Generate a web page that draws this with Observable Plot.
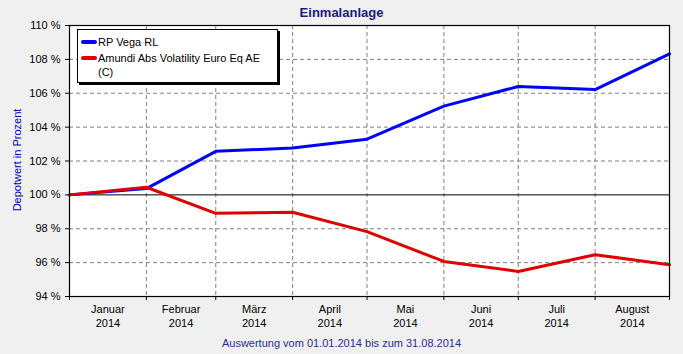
<!DOCTYPE html>
<html><head><meta charset="utf-8">
<script src="https://cdn.jsdelivr.net/npm/d3@7"></script>
<script src="https://cdn.jsdelivr.net/npm/@observablehq/plot@0.6"></script>
<style>
body{margin:0;background:#f0f0f0;font-family:"Liberation Sans",Arial,sans-serif;}
#wrap{position:relative;width:683px;height:354px;overflow:hidden;}
#wrap svg{position:absolute;left:0;top:0;}
.ov{position:absolute;white-space:nowrap;font-size:11px;line-height:1;}
#title{left:0;width:683px;top:6px;text-align:center;font-weight:bold;font-size:13px;color:#1a1a80;}
#caption{left:0;width:683px;top:338px;text-align:center;color:#2a2a9a;}
#ylab{left:17px;top:160px;transform:translate(-50%,-50%) rotate(-90deg);color:#0000b0;}
#legend{position:absolute;left:77px;top:29px;width:199px;height:52px;background:#fff;border:1px solid #000;box-shadow:2px 2px 0 #000;font-size:11px;}
.sw{position:absolute;left:3px;width:16px;height:4px;border-radius:2px;}
.lt{position:absolute;left:20px;white-space:nowrap;line-height:14px;}
</style>
</head><body>
<div id="wrap"></div>
<script>
const dates = ["2014-01-01","2014-02-01","2014-03-01","2014-04-01","2014-05-01","2014-06-01","2014-07-01","2014-08-01","2014-08-31"];
const rpVega = [100, 100.37, 102.57, 102.77, 103.29, 105.24, 106.40, 106.22, 108.32];
const amundi = [100, 100.45, 98.91, 98.97, 97.83, 96.07, 95.48, 96.47, 95.88];
const seriesNames = ["RP Vega RL", "Amundi Abs Volatility Euro Eq AE (C)"];
const seriesColors = ["#0000ff", "#e00000"];
const monthNames = ["Januar","Februar","März","April","Mai","Juni","Juli","August"];
const yearLabel = "2014";
const yTicks = [94,96,98,100,102,104,106,108,110];
const titleText = "Einmalanlage";
const yAxisTitle = "Depotwert in Prozent";
const captionText = "Auswertung vom 01.01.2014 bis zum 31.08.2014";

const parse = d3.utcParse("%Y-%m-%d");
const dt = dates.map(parse);
const blue = dt.map((d,i)=>({date:d, value:rpVega[i]}));
const red = dt.map((d,i)=>({date:d, value:amundi[i]}));
const start = dt[0], end = dt[dt.length-1];
const gridDates = dt.slice(1, -1);
const midDates = dt.slice(0,-1).map((d,i)=>new Date((+d + +dt[i+1])/2));
const gridYVals = yTicks.filter(v => v !== 100 && v !== yTicks[0] && v !== yTicks[yTicks.length-1]);

const dash = {stroke:"#808080", strokeOpacity:1, strokeDasharray:"4,3", strokeWidth:1};

const chart = Plot.plot({
  width:683, height:354,
  marginLeft:69, marginRight:14, marginTop:25, marginBottom:58,
  style:{background:"transparent", fontFamily:"'Liberation Sans', Arial, sans-serif", fontSize:"11px", color:"#000"},
  x:{type:"utc", domain:[start,end]},
  y:{domain:[yTicks[0], yTicks[yTicks.length-1]]},
  marks:[
    Plot.frame({fill:"white", stroke:null}),
    Plot.gridX(gridDates, dash),
    Plot.gridY(gridYVals, dash),
    Plot.ruleY([100], {stroke:"#000", strokeWidth:1}),
    Plot.line(blue, {x:"date", y:"value", stroke:seriesColors[0], strokeWidth:3}),
    Plot.line(red, {x:"date", y:"value", stroke:seriesColors[1], strokeWidth:3}),
    Plot.frame({stroke:"#000", strokeWidth:1.2}),
    Plot.axisY({ticks:yTicks, tickFormat:d=>d+" %", tickSize:4, tickPadding:5, label:null, fill:"#000", stroke:"#000"}),
    Plot.axisX({ticks:dt, tickFormat:()=>"", tickSize:4, label:null, stroke:"#000"}),
    Plot.axisX({ticks:midDates, tickFormat:d=>monthNames[d.getUTCMonth()]+"\n"+yearLabel, tickSize:0, tickPadding:7, lineHeight:1.27, label:null, fill:"#000"})
  ]
});

const wrap = document.getElementById("wrap");
wrap.appendChild(chart);

function addDiv(id, text){
  const el = document.createElement("div");
  el.id = id; el.className = "ov"; el.textContent = text;
  wrap.appendChild(el);
}
addDiv("title", titleText);
addDiv("caption", captionText);
addDiv("ylab", yAxisTitle);

const lg = document.createElement("div");
lg.id = "legend";
const rows = [{t:"RP Vega RL", y:5, c:seriesColors[0]}, {t:"Amundi Abs Volatility Euro Eq AE", y:21, c:seriesColors[1]}];
rows.forEach(r=>{
  const s = document.createElement("div"); s.className="sw"; s.style.top=(r.y+5)+"px"; s.style.background=r.c; lg.appendChild(s);
  const t = document.createElement("div"); t.className="lt"; t.style.top=r.y+"px"; t.textContent=r.t; lg.appendChild(t);
});
const t3 = document.createElement("div"); t3.className="lt"; t3.style.top="35px"; t3.textContent="(C)"; lg.appendChild(t3);
wrap.appendChild(lg);
</script>
</body></html>
